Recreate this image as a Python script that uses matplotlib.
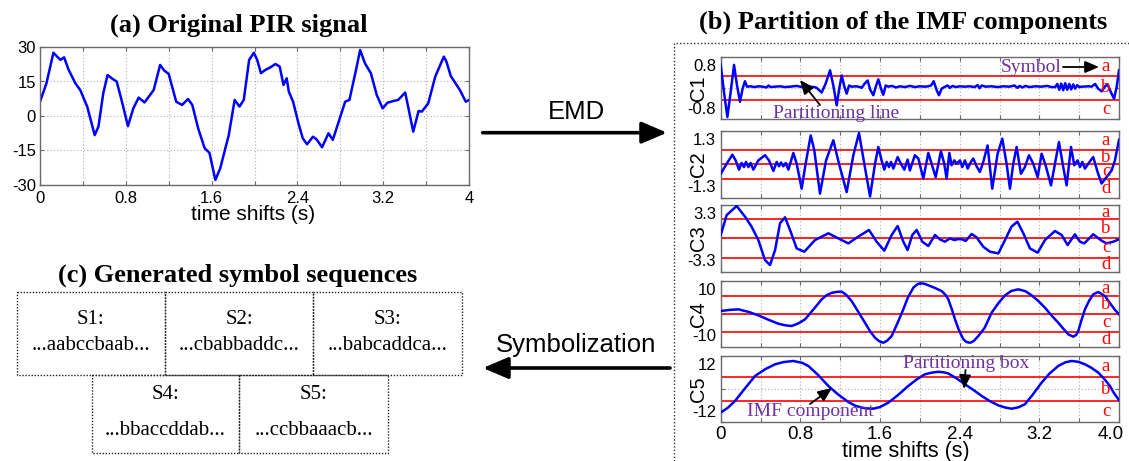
import numpy as np
import matplotlib
matplotlib.use("Agg")
import matplotlib.pyplot as plt
from matplotlib.lines import Line2D
from matplotlib.patches import FancyArrowPatch

# ---------------- data ----------------
pir_t = [0.0, 0.06, 0.125, 0.19, 0.225, 0.265, 0.33, 0.375, 0.44, 0.51, 0.545, 0.59, 0.63, 0.68, 0.715,
         0.76, 0.82, 0.87, 0.92, 0.975, 1.06, 1.12, 1.16, 1.2, 1.27, 1.325, 1.38, 1.42, 1.475, 1.535,
         1.58, 1.635, 1.68, 1.76, 1.815, 1.86, 1.9, 1.95, 1.994, 2.025, 2.06, 2.1, 2.15, 2.195, 2.235,
         2.27, 2.3, 2.32, 2.36, 2.41, 2.45, 2.49, 2.545, 2.58, 2.63, 2.69, 2.73, 2.785, 2.845, 2.885,
         2.94, 2.985, 3.03, 3.085, 3.14, 3.195, 3.24, 3.295, 3.34, 3.405, 3.445, 3.48, 3.53, 3.56, 3.62,
         3.685, 3.765, 3.79, 3.83, 3.915, 3.97, 4.0]
pir_v = [6.2, 14.2, 27.5, 24.4, 25.5, 20.3, 14.2, 11.3, 4.1, -8.3, -4.6, 9.9, 17.8, 16.0, 15.0,
         7.0, -4.4, 3.3, 8.0, 5.9, 11.3, 22.2, 19.7, 18.3, 6.2, 4.8, 7.4, 4.8, -5.4, -14.0,
         -16.0, -27.8, -22.8, -8.3, 7.0, 4.1, 7.0, 24.4, 27.5, 24.4, 18.6, 20.0, 21.2, 22.6, 21.5,
         13.5, 16.4, 10.6, 6.2, -3.2, -9.7, -12.3, -9.0, -10.2, -13.6, -7.5, -10.4, -2.5, 6.2, 7.0,
         18.6, 28.7, 22.9, 18.6, 9.1, 3.3, 5.8, 6.5, 7.0, 10.2, 1.2, -6.8, 2.2, 1.9, 5.5,
         17.1, 25.8, 23.6, 17.4, 11.3, 6.2, 7.0]

c1_t = [0.0, 0.033, 0.067, 0.1, 0.134, 0.164, 0.194, 0.22, 0.244, 0.264,
        0.3, 0.34, 0.38, 0.42, 0.46, 0.48, 0.5, 0.54, 0.6, 0.64, 0.7, 0.76, 0.82, 0.88, 0.94,
        0.964, 1.014, 1.054, 1.098, 1.131, 1.165, 1.188, 1.215, 1.242, 1.265, 1.289, 1.315, 1.36, 1.4,
        1.416, 1.443, 1.476, 1.5, 1.533, 1.56, 1.583, 1.61, 1.633, 1.657, 1.684,
        1.72, 1.76, 1.8, 1.85, 1.9, 1.95, 2.0, 2.05, 2.085, 2.112, 2.139, 2.169, 2.192, 2.219, 2.253,
        2.28, 2.3, 2.33, 2.36, 2.4, 2.45, 2.5, 2.55, 2.58, 2.6, 2.62, 2.66, 2.72, 2.78, 2.84, 2.9,
        2.95, 2.98, 3.0, 3.03, 3.06, 3.1, 3.16, 3.22, 3.28, 3.32,
        3.36, 3.38, 3.4, 3.42, 3.44, 3.46, 3.48, 3.5, 3.52, 3.54, 3.56, 3.58, 3.6,
        3.625, 3.7, 3.725, 3.76, 3.79, 3.826, 3.86, 3.886, 3.92, 3.95, 3.977, 4.0]
c1_v = [0.6, -0.11, -0.75, -0.11, 0.59, 0.06, -0.36, -0.02, 0.17, 0.03,
        0.04, 0.02, 0.04, 0.03, 0.01, 0.06, 0.02, 0.03, 0.04, 0.02, 0.03, 0.05, 0.02, 0.03, 0.02,
        0.0, -0.12, 0.11, 0.45, 0.06, -0.45, -0.06, 0.32, 0.03, -0.15, 0.06, 0.03, 0.04, 0.02,
        0.0, 0.1, 0.19, -0.04, -0.19, 0.05, 0.22, -0.02, -0.18, 0.06, 0.03,
        0.05, 0.01, 0.04, 0.02, 0.05, 0.02, 0.04, 0.03, 0.04, 0.06, 0.17, -0.06, -0.19, -0.02, 0.03,
        0.06, 0.0, 0.05, 0.02, 0.04, 0.03, 0.04, 0.02, 0.07, -0.01, 0.06, 0.03, 0.04, 0.02, 0.04, 0.03,
        0.06, 0.0, 0.05, 0.01, 0.05, 0.02, 0.04, 0.03, 0.05, 0.02,
        0.02, 0.1, -0.05, 0.11, -0.06, 0.12, -0.05, 0.1, -0.04, 0.09, -0.02, 0.07, 0.02,
        0.03, 0.04, 0.03, 0.1, -0.02, -0.09, 0.04, 0.09, -0.12, -0.28, 0.03, 0.45]

c2_t = [0.0, 0.06, 0.117, 0.15, 0.184, 0.21, 0.234, 0.254, 0.278, 0.3, 0.328, 0.378, 0.445, 0.485,
        0.529, 0.562, 0.586, 0.606, 0.629, 0.653, 0.68, 0.73, 0.763, 0.813, 0.853, 0.904, 0.94, 0.997,
        1.058, 1.131, 1.188, 1.265, 1.332, 1.389, 1.442, 1.5, 1.55, 1.583, 1.616, 1.643, 1.667, 1.69,
        1.71, 1.734, 1.777, 1.81, 1.844, 1.877, 1.9, 1.95, 1.985, 2.035, 2.085, 2.118, 2.159, 2.212,
        2.245, 2.269, 2.296, 2.319, 2.346, 2.369, 2.403, 2.426, 2.453, 2.48, 2.513, 2.537, 2.57, 2.603,
        2.637, 2.68, 2.727, 2.781, 2.828, 2.871, 2.905, 2.938, 2.972, 3.015, 3.055, 3.096, 3.139, 3.183,
        3.223, 3.263, 3.317, 3.357, 3.397, 3.44, 3.474, 3.518, 3.551, 3.584, 3.608, 3.631, 3.658, 3.691,
        3.741, 3.785, 3.825, 3.875, 3.926, 3.959, 4.0]
c2_v = [-0.36, 0.03, 0.38, 0.16, -0.2, 0.06, -0.1, 0.1, -0.1, 0.06, -0.2, 0.16, 0.36, 0.16,
        -0.25, 0.1, -0.07, 0.08, -0.07, 0.06, -0.2, 0.45, 0.03, -0.94, 0.03, 1.13, 0.55, -1.13,
        0.16, 0.94, 0.03, -1.07, 0.36, 1.22, 0.03, -1.24, 0.03, 0.68, 0.16, -0.2, 0.1, -0.1,
        0.1, -0.16, 0.29, 0.03, -0.2, 0.19, -0.23, 0.36, 0.23, -0.55, 0.45, 0.03, -0.49, 0.52,
        0.03, -0.55, 0.45, -0.03, 0.16, 0.03, 0.16, -0.1, 0.16, -0.16, 0.1, 0.23, -0.07, -0.29,
        0.1, 0.74, -0.94, 0.42, 1.0, 0.03, -0.94, 0.03, 0.68, -0.36, -0.1, 0.36, 0.03, -0.49,
        0.42, -0.03, -0.81, 0.03, 0.87, -0.1, -0.81, 0.68, -0.03, 0.16, -0.1, 0.1, -0.16, 0.03,
        0.29, -0.29, -0.74, -0.49, -0.23, 0.16, 0.96]

c3_t = [0.0, 0.06, 0.16, 0.244, 0.31, 0.378, 0.445, 0.495, 0.546, 0.596, 0.646, 0.696, 0.763, 0.84,
        0.947, 1.081, 1.181, 1.282, 1.382, 1.489, 1.566, 1.643, 1.717, 1.777, 1.834, 1.877, 1.924,
        1.968, 2.025, 2.085, 2.152, 2.202, 2.252, 2.303, 2.346, 2.386, 2.426, 2.46, 2.52, 2.57, 2.637,
        2.704, 2.788, 2.855, 2.92, 2.98, 3.039, 3.106, 3.183, 3.256, 3.357, 3.424, 3.484, 3.557, 3.608,
        3.651, 3.741, 3.825, 3.876, 3.942, 4.0]
c3_v = [0.33, 2.3, 3.2, 2.15, 1.16, -0.17, -2.15, -2.64, -1.16, 1.5, 2.08, 0.83, -1.0, -1.32,
        -0.17, 0.5, 0.0, -0.5, 0.17, 0.83, -0.33, -1.22, 0.33, 1.22, -0.33, -1.16, 0.33,
        0.83, -0.33, -0.76, 0.33, -0.1, -0.33, 0.0, -0.17, -0.07, -0.1, -0.26, 0.43, 0.1, -0.83,
        -1.32, -1.49, -0.17, 1.16, 1.65, 0.5, -1.0, -1.42, -0.17, 0.73, 0.33, -0.66, 0.4, -0.33,
        -0.5, 0.4, -0.23, -0.5, -0.33, -0.1]

c4_t = [0.0, 0.09, 0.177, 0.28, 0.378, 0.48, 0.579, 0.65, 0.713, 0.78, 0.847, 0.93, 1.014, 1.06,
        1.115, 1.17, 1.215, 1.26, 1.315, 1.38, 1.449, 1.5, 1.55, 1.59, 1.633, 1.67, 1.717, 1.77,
        1.834, 1.88, 1.935, 1.97, 2.0, 2.04, 2.085, 2.15, 2.219, 2.26, 2.286, 2.32, 2.353, 2.39,
        2.437, 2.47, 2.504, 2.54, 2.587, 2.65, 2.721, 2.79, 2.855, 2.92, 2.99, 3.06, 3.123, 3.19,
        3.256, 3.32, 3.39, 3.44, 3.491, 3.541, 3.57, 3.591, 3.62, 3.658, 3.7, 3.741, 3.792, 3.859,
        3.89, 3.926, 3.96, 4.0]
c4_v = [0.86, 1.2, 1.37, 0.6, -0.46, -1.8, -3.0, -3.5, -3.7, -2.9, -1.67, 1.3, 4.4, 5.6,
        6.4, 6.7, 6.75, 5.8, 3.9, 0.7, -2.7, -5.3, -7.26, -8.3, -8.8, -8.2, -6.75, -3.2,
        1.37, 5.0, 7.97, 8.9, 9.3, 9.2, 8.7, 7.9, 6.95, 5.7, 4.4, 1.5, -1.67, -4.8,
        -7.76, -8.6, -8.8, -8.3, -6.75, -4.3, 0.36, 3.3, 5.63, 7.0, 7.46, 6.9, 5.63, 3.9,
        1.88, -0.4, -2.7, -4.5, -6.24, -6.95, -6.4, -5.2, -2.2, 1.37, 4.0, 5.94, 6.65, 5.43,
        4.1, 2.59, 1.2, -0.15]

c5_t = [0.0, 0.07, 0.144, 0.25, 0.345, 0.45, 0.546, 0.63, 0.73, 0.82, 0.88, 0.98, 1.081, 1.18,
        1.282, 1.35, 1.416, 1.47, 1.533, 1.6, 1.684, 1.78, 1.884, 1.97, 2.051, 2.12, 2.186, 2.24,
        2.286, 2.37, 2.453, 2.54, 2.621, 2.7, 2.788, 2.86, 2.922, 2.99, 3.055, 3.13, 3.223, 3.3,
        3.39, 3.46, 3.524, 3.59, 3.658, 3.72, 3.792, 3.85, 3.909, 3.95, 4.0]
c5_v = [-8.5, -6.8, -4.3, 0.5, 4.7, 7.2, 8.9, 9.7, 10.1, 9.4, 8.3, 5.0, 1.1, -2.0,
        -4.7, -6.0, -6.7, -7.0, -7.1, -6.5, -4.9, -2.2, 1.1, 3.5, 5.3, 5.9, 6.2, 6.0,
        5.6, 3.8, 1.7, -0.4, -2.5, -4.3, -5.9, -6.7, -7.1, -6.6, -5.5, -2.2, 2.3, 5.5,
        8.3, 9.6, 10.1, 9.8, 8.9, 7.7, 5.9, 3.7, 1.1, -1.5, -4.0]

imf_names = ["C1", "C2", "C3", "C4", "C5"]
imf_limits = [0.8, 1.3, 3.3, 10, 12]
imf_lines = [[0.3, -0.3], [0.55, 0.0, -0.55], [1.9, 0.0, -1.9], [5.5, 0.0, -5.5], [4.3, -4.3]]
imf_symbols = [["a", "b", "c"], ["a", "b", "c", "d"], ["a", "b", "c", "d"],
               ["a", "b", "c", "d"], ["a", "b", "c"]]

pir_xticks = ["0", "0.8", "1.6", "2.4", "3.2", "4"]
imf_xticks = ["0", "0.8", "1.6", "2.4", "3.2", "4.0"]
pir_yticks = [-30, -15, 0, 15, 30]

seq_names = ["S1:", "S2:", "S3:", "S4:", "S5:"]
seq_values = ["...aabccbaab...", "...cbabbaddc...", "...babcaddca...",
              "...bbaccddab...", "...ccbbaaacb..."]

# ---------------- figure ----------------
W, H = 1129, 461
fig = plt.figure(figsize=(W / 100, H / 100), dpi=100)
SANS = "Liberation Sans"
SERIF = "Liberation Serif"
BLUE = "#0000FF"
RED = "#FF0000"
PURPLE = "#7030A0"
SPINE = "#6a6a6a"


def fx(px):
    return px / W


def fy(py):
    return 1 - py / H


def add_ax(l, t, r, b):
    return fig.add_axes([fx(l), fy(b), (r - l) / W, (b - t) / H])


def style(ax):
    for s in ax.spines.values():
        s.set_color(SPINE)
        s.set_linewidth(1.0)
    ax.tick_params(direction="in", top=True, right=True, length=3, width=0.8,
                   color=SPINE, labelsize=11.5, pad=3)
    ax.grid(True, linestyle=(0, (1, 2)), color="#b0b0b0", linewidth=0.8)
    ax.set_axisbelow(True)


xt = np.arange(0, 4.001, 0.4)

# ---- panel (a)
axa = add_ax(40, 47, 469, 185)
style(axa)
axa.plot(pir_t, pir_v, color=BLUE, lw=1.8)
axa.set_xlim(0, 4)
axa.set_ylim(-30, 30)
axa.set_xticks(xt)
lab = []
for i in range(len(xt)):
    lab.append(pir_xticks[i // 2] if i % 2 == 0 else "")
axa.set_xticklabels(lab, fontfamily=SANS, fontsize=12)
axa.tick_params(axis="x", pad=4)
axa.set_yticks(pir_yticks)
axa.set_yticklabels([str(v) for v in pir_yticks], fontfamily=SANS, fontsize=12)
fig.text(fx(253), fy(214), "time shifts (s)", fontfamily=SANS, fontsize=15,
         ha="center", va="center")
fig.text(fx(239), fy(25), "(a) Original PIR signal", fontfamily=SERIF, fontweight="bold",
         fontsize=19, ha="center", va="center")

# ---- panel (b)
series = [(c1_t, c1_v), (c2_t, c2_v), (c3_t, c3_v), (c4_t, c4_v), (c5_t, c5_v)]
tops = [56.7, 131, 205, 281, 355.7]
bots = [119, 198, 271.7, 346.7, 422.3]
for k in range(5):
    ax = add_ax(720.7, tops[k], 1119, bots[k])
    style(ax)
    lim = imf_limits[k]
    ax.set_xlim(0, 4)
    ax.set_ylim(-lim, lim)
    ax.set_xticks(xt)
    ax.set_xticklabels([""] * len(xt))
    ax.set_yticks([-lim, 0, lim])
    ax.set_yticklabels(["", "", ""])
    for lv in imf_lines[k]:
        ax.axhline(lv, color=RED, lw=1.2, zorder=2)
    t, v = series[k]
    ax.plot(t, v, color=BLUE, lw=1.8, zorder=3)
    bounds = [lim] + imf_lines[k] + [-lim]
    for j, sym in enumerate(imf_symbols[k]):
        yc = 0.5 * (bounds[j] + bounds[j + 1])
        ax.text(3.87, yc, sym, color=RED, fontfamily=SERIF, fontsize=13.5,
                ha="center", va="center", zorder=4)
    num = "%g" % lim
    ax.text(-0.012, 0.97, num, transform=ax.transAxes, ha="right", va="top",
            fontfamily=SANS, fontsize=12)
    ax.text(-0.012, 0.04, "-" + num, transform=ax.transAxes, ha="right", va="bottom",
            fontfamily=SANS, fontsize=12)
    ax.set_ylabel(imf_names[k], fontfamily=SANS, fontsize=14.5, labelpad=6)
    if k == 4:
        for i in range(0, len(xt), 2):
            xpos = xt[i] if i < len(xt) - 1 else 3.92
            ax.text(xpos, -0.06, imf_xticks[i // 2], transform=ax.get_xaxis_transform(),
                    ha="center", va="top", fontfamily=SANS, fontsize=13.5)

fig.text(fx(906), fy(451), "time shifts (s)", fontfamily=SANS, fontsize=15.5,
         ha="center", va="center")
fig.text(fx(903), fy(22), "(b) Partition of the IMF components", fontfamily=SERIF,
         fontweight="bold", fontsize=19, ha="center", va="center")

fig.add_artist(Line2D([fx(674), fx(674), fx(1129)], [fy(461), fy(42.7), fy(42.7)],
                      transform=fig.transFigure, color="#333333", lw=1.0,
                      linestyle=(0, (1, 1.5))))


def arrow(x0, y0, x1, y1, lw=1.3, ms=12, style="-|>,head_length=0.7,head_width=0.3"):
    fig.add_artist(FancyArrowPatch((fx(x0), fy(y0)), (fx(x1), fy(y1)),
                                   transform=fig.transFigure, arrowstyle=style,
                                   mutation_scale=ms, lw=lw, color="black",
                                   shrinkA=0, shrinkB=0))


fig.text(fx(1031), fy(67), "Symbol", color=PURPLE, fontfamily=SERIF, fontsize=14,
         ha="center", va="center")
arrow(1063, 67, 1099, 67)
fig.text(fx(836), fy(113.5), "Partitioning line", color=PURPLE, fontfamily=SERIF,
         fontsize=14, ha="center", va="center")
arrow(820, 105, 800, 80)
fig.text(fx(966), fy(363), "Partitioning box", color=PURPLE, fontfamily=SERIF,
         fontsize=14, ha="center", va="center")
arrow(965.5, 370, 964, 389)
fig.text(fx(810), fy(411), "IMF component", color=PURPLE, fontfamily=SERIF,
         fontsize=14, ha="center", va="center")
arrow(810, 404, 832, 388)

# ---- big arrows
fig.text(fx(576), fy(112), "EMD", fontfamily=SANS, fontsize=18.5, ha="center", va="center")
arrow(482.7, 132.7, 667, 132.7, lw=2.6, ms=22)
fig.text(fx(576), fy(345), "Symbolization", fontfamily=SANS, fontsize=18.5,
         ha="center", va="center")
arrow(670, 368, 483, 368, lw=2.6, ms=22)

# ---- panel (c)
fig.text(fx(238), fy(275), "(c) Generated symbol sequences", fontfamily=SERIF,
         fontweight="bold", fontsize=19, ha="center", va="center")
dot = dict(transform=fig.transFigure, color="#222222", lw=1.0, linestyle=(0, (1, 1.2)))


def box(l, t, r, b):
    fig.add_artist(Line2D([fx(l), fx(r), fx(r), fx(l), fx(l)],
                          [fy(t), fy(t), fy(b), fy(b), fy(t)], **dot))


row1 = [16.7, 165, 313.3, 461.7]
row2 = [91.7, 239.3, 387.7]
for i in range(3):
    box(row1[i], 291.7, row1[i + 1], 375)
    xc = 0.5 * (row1[i] + row1[i + 1])
    fig.text(fx(xc), fy(319), seq_names[i], fontfamily=SERIF, fontsize=15,
             ha="center", va="center")
    fig.text(fx(xc), fy(345), seq_values[i], fontfamily=SERIF, fontsize=15,
             ha="center", va="center")
for i in range(2):
    box(row2[i], 375, row2[i + 1], 452.7)
    xc = 0.5 * (row2[i] + row2[i + 1])
    fig.text(fx(xc), fy(394), seq_names[3 + i], fontfamily=SERIF, fontsize=15,
             ha="center", va="center")
    fig.text(fx(xc), fy(430), seq_values[3 + i], fontfamily=SERIF, fontsize=15,
             ha="center", va="center")

fig.savefig("out.png", dpi=100)
